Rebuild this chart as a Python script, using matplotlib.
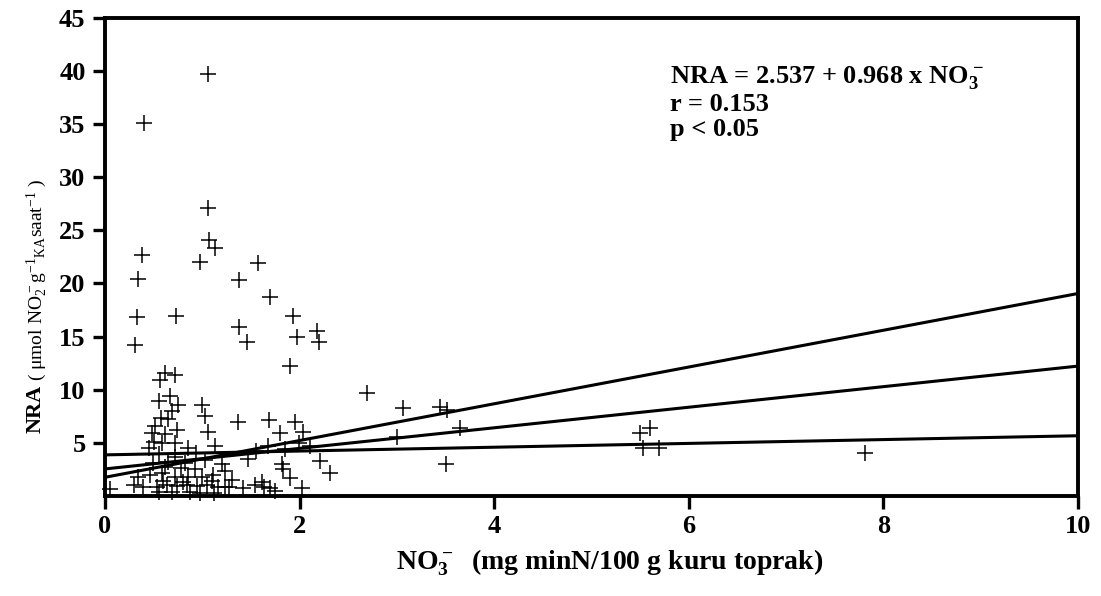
import numpy as np
import matplotlib.pyplot as plt

plt.rcParams['font.family'] = 'Liberation Serif'
plt.rcParams['mathtext.fontset'] = 'custom'
plt.rcParams['mathtext.rm'] = 'Liberation Serif'
plt.rcParams['mathtext.bf'] = 'Liberation Serif:bold'
plt.rcParams['mathtext.default'] = 'regular'

# NO3 (x) and NRA (y) values
no3 = [1.06, 0.40, 0.38, 0.34, 0.33, 0.31, 0.73, 1.06, 1.07, 1.13, 0.98, 1.38,
       1.57, 1.38, 1.46, 1.70, 1.93, 1.97, 2.18, 2.20, 1.90, 2.69, 3.06, 3.00,
       3.44, 3.52, 3.65, 3.50, 5.50, 5.60, 5.53, 5.69, 7.81, 0.62, 0.72, 0.56,
       0.55, 0.67, 0.75, 0.69, 1.00, 1.03, 1.06, 1.13, 0.58, 0.65, 0.51, 0.48,
       0.62, 0.74, 0.50, 0.59, 0.72, 1.37, 1.69, 1.95, 1.80, 2.03, 1.68, 1.99,
       2.11, 1.85, 0.94, 1.47, 2.21, 2.31, 1.82, 1.83, 1.90, 2.02, 1.23, 1.42,
       1.54, 1.61, 1.63, 1.70, 1.75, 1.23, 0.55, 0.72, 0.82, 0.49, 0.65, 1.03,
       0.34, 0.46, 0.59, 0.72, 0.85, 1.00, 1.11, 0.39, 0.53, 0.64, 0.74, 0.84,
       0.95, 1.05, 1.16, 1.27, 0.69, 0.87, 0.55, 0.05, 0.78, 0.92, 0.60, 0.80,
       1.10, 0.45, 0.85, 1.20, 1.55, 1.30, 0.98, 1.12, 0.30, 0.62]
nra = [39.7, 35.1, 22.7, 20.4, 16.8, 14.2, 16.9, 27.1, 24.1, 23.3, 22.0, 20.3,
       21.9, 15.9, 14.5, 18.7, 16.9, 15.0, 15.5, 14.5, 12.2, 9.7, 8.3, 5.5,
       8.4, 8.1, 6.4, 3.0, 5.9, 6.4, 4.5, 4.5, 4.0, 11.6, 11.4, 10.9,
       8.9, 9.4, 8.6, 8.0, 8.6, 7.5, 6.0, 4.7, 7.3, 7.2, 6.6, 5.9,
       5.8, 6.2, 5.1, 5.0, 5.0, 7.0, 7.1, 7.0, 5.9, 6.0, 4.7, 5.0,
       4.7, 4.4, 4.0, 3.5, 3.3, 2.2, 3.0, 2.5, 1.7, 0.7, 2.3, 0.7,
       1.0, 1.3, 0.8, 0.7, 0.5, 0.8, 3.9, 3.7, 3.1, 3.1, 3.2, 3.4,
       1.8, 2.0, 2.2, 1.8, 1.8, 1.8, 2.0, 0.8, 0.8, 1.0, 0.9, 1.0,
       0.9, 1.0, 0.8, 0.8, 0.4, 0.4, 0.4, 0.6, 2.6, 2.5, 1.4, 1.3,
       1.4, 4.5, 4.5, 3.0, 4.2, 1.5, 0.3, 0.3, 1.0, 2.7]

# regression line and the two bounding lines (intercept, slope)
line_intercepts = [2.537, 3.86, 1.75]
line_slopes = [0.968, 0.18, 1.73]

fig = plt.figure(figsize=(11.01, 5.96), dpi=100)
ax = fig.add_axes([0.0954, 0.168, 0.8836, 0.802])

ax.plot(no3, nra, '+', color='black', markersize=12, markeredgewidth=1.1,
        clip_on=False)

xs = np.array([0, 10])
for b0, b1 in zip(line_intercepts, line_slopes):
    ax.plot(xs, b0 + b1 * xs, color='black', linewidth=2.2)

ax.set_xlim(0, 10)
ax.set_ylim(0, 45)
ax.set_xticks([0, 2, 4, 6, 8, 10])
ax.set_yticks([5, 10, 15, 20, 25, 30, 35, 40, 45])
for s in ax.spines.values():
    s.set_linewidth(2.8)
ax.tick_params(direction='out', length=9, width=2.4, labelsize=19, pad=5)
for lab in ax.get_xticklabels() + ax.get_yticklabels():
    lab.set_fontweight('bold')

ax.text(0.581, 0.864, r'NRA = 2.537 + 0.968 x NO$_3^-$', transform=ax.transAxes,
        fontsize=19, fontweight='bold', va='baseline')
ax.text(0.581, 0.805, 'r = 0.153', transform=ax.transAxes,
        fontsize=19, fontweight='bold', va='baseline')
ax.text(0.581, 0.752, 'p < 0.05', transform=ax.transAxes,
        fontsize=19, fontweight='bold', va='baseline')

fig.text(0.554, 0.044, r'NO$_3^-$  (mg minN/100 g kuru toprak)', ha='center',
         va='baseline', fontsize=20, fontweight='bold')

fig.text(0.032, 0.354, 'NRA', rotation=90, ha='center', va='top',
         fontsize=16, fontweight='bold')
fig.text(0.034, 0.360, r'( $\mu$mol NO$_2^-$g$^{-1}$$_{KA}$saat$^{-1}$ )',
         rotation=90, ha='center', va='bottom', fontsize=14)

fig.savefig('out.png', dpi=100)
